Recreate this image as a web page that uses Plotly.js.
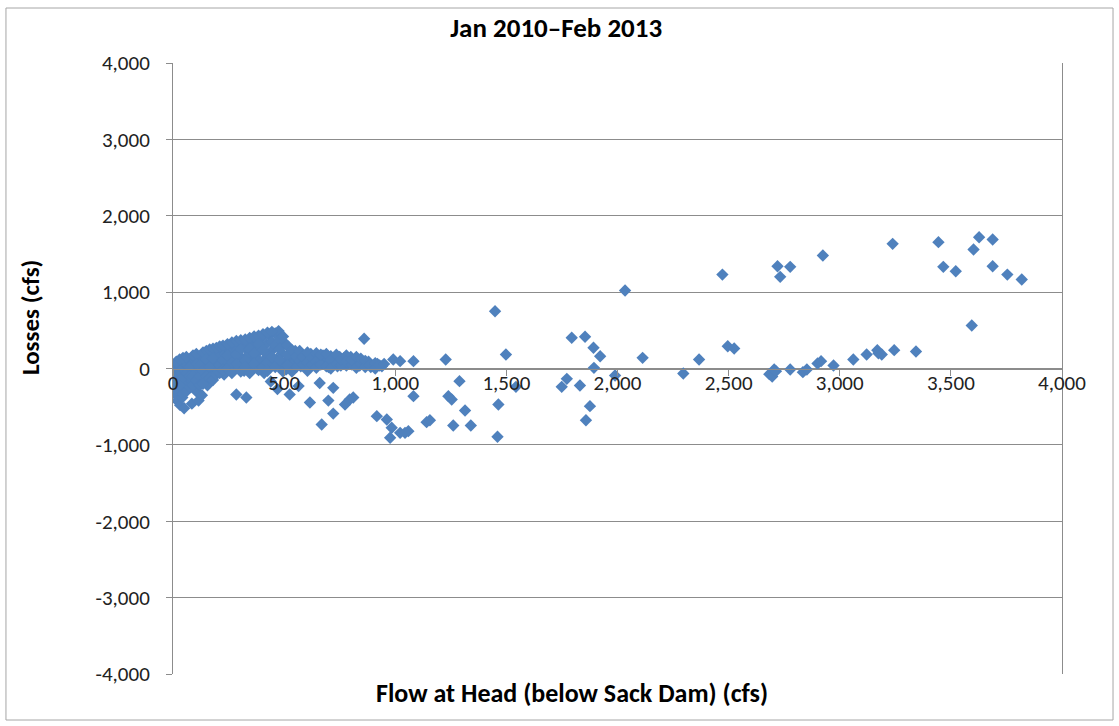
<!DOCTYPE html>
<html>
<head>
<meta charset="utf-8">
<script src="https://cdn.plot.ly/plotly-3.0.1.min.js"></script>
<style>html,body{margin:0;padding:0;background:#fff;}#chart{width:1119px;height:726px;}</style>
</head>
<body>
<div id="chart"></div>
<script>
// Flow at Head (below Sack Dam) (cfs)
const flowX = [
  5,8,10,12,15,18,20,22,25,28,30,32,35,38,40,42,45,48,50,55,58,60,
  65,70,75,80,85,90,95,100,105,110,115,120,125,130,135,140,145,150,
  155,160,170,175,180,190,195,200,210,215,220,230,235,240,250,255,260,270,275,280,285,290,300,305,310,320,
  325,330,335,340,350,355,360,370,375,380,390,400,405,410,420,425,430,440,445,450,460,465,470,475,480,490,500,505,510,520,525,
  530,540,550,560,565,575,580,590,600,610,616,620,630,640,650,660,665,669,675,685,690,699,700,710,715,721,721,
  730,740,750,760,770,774,780,790,795,800,811,820,830,840,850,860,870,880,890,900,917,920,940,962,977,984,991,1022,1059,1022,1082,1082,1044,
  1141,1156,1227,1239,1254,1261,1289,1314,1340,1449,1460,1464,1498,1543,
  1749,1772,1794,1831,1854,1858,1876,1892,1894,1922,1989,2034,2113,
  2296,2367,2472,2496,2525,2683,2696,2705,2713,2720,2732,2777,2777,2834,2852,2900,2916,2924,2972,
  3061,3121,3169,3174,3189,3238,3245,3343,3444,3466,3522,3594,3602,3627,3688,3688,3754,3819,
  // denser core of the low-flow cluster
  15,15,15,30,30,45,45,45,60,60,60,75,75,75,90,90,90,105,105,105,120,120,120,135,135,135,150,150,150,
  165,165,165,180,180,180,195,195,210,210,210,225,225,225,245,245,245,265,265,265,285,285,285,
  305,305,305,325,325,325,345,345,345,365,365,365,385,385,385,405,405,405,425,425,425,445,445,445,
  460,460,480,480,480,495,495,515,515,515,535,535,555,555,570,570,585,585,605,605,605,625,625,
  645,645,645,665,665,690,690,710,710,735,735,755,755,780,780,805,805,825,825,845,845,865,865,885,910,910,930,950
];
// Losses (cfs)
const lossY = [
  -50,20,-150,-250,-350,-420,60,-100,-200,-300,30,-480,-50,-150,80,-380,10,-250,-520,70,-100,-200,
  40,-30,100,-150,-460,20,120,-80,-300,50,-420,150,-40,-350,90,-120,170,0,
  -220,120,200,50,-60,230,100,-20,160,260,40,-80,190,290,80,-10,220,310,130,20,-340,240,340,150,60,-30,
  270,-380,360,180,80,-20,290,390,140,30,230,410,100,-60,320,180,440,-170,60,250,460,120,-270,490,30,200,340,90,-10,280,-340,
  150,60,230,120,-230,30,180,90,140,40,-445,190,100,150,60,-190,130,-733,170,80,140,-420,20,160,70,-253,-590,
  120,30,150,90,140,-471,40,110,-406,150,-380,70,120,40,100,389,60,90,20,40,-624,60,30,-668,-907,-776,118,-842,-820,96,96,-362,-842,
  -703,-677,118,-362,-406,-746,-166,-550,-746,750,-894,-471,183,-240,
  -240,-135,402,-223,415,-677,-493,271,9,161,-92,1021,140,
  -66,118,1230,292,262,-74,-105,-13,-35,1339,1200,1331,-13,-48,-13,65,96,1479,39,
  118,183,240,200,183,1632,240,222,1654,1331,1274,563,1558,1719,1689,1339,1230,1165,
  -280,-180,90,-220,120,-330,140,-120,150,-60,-300,-240,20,-100,170,-100,-220,190,60,-160,40,-100,-220,210,-30,-200,230,120,-100,
  250,20,-120,260,130,-150,270,-80,290,50,-60,300,110,-20,320,170,0,340,80,-60,360,180,60,
  370,250,-40,380,100,20,400,260,-60,420,200,60,430,320,-20,450,240,20,470,80,-30,480,350,150,
  300,20,380,260,110,420,-40,180,40,300,240,-40,160,20,230,100,50,150,210,80,-30,50,140,
  200,90,10,50,180,190,30,110,0,180,60,40,120,170,90,50,110,150,10,60,130,100,20,50,70,0,40,60
];

const xTickVals = [0,500,1000,1500,2000,2500,3000,3500,4000];
const xTickText = ['0','500','1,000','1,500','2,000','2,500','3,000','3,500','4,000'];
const yTickVals = [-4000,-3000,-2000,-1000,0,1000,2000,3000,4000];
const yTickText = ['-4,000','-3,000','-2,000','-1,000','0','1,000','2,000','3,000','4,000'];

const FONT = 'Calibri, Carlito, Lato, sans-serif';
const GRID = '#8c8c8c';

const trace = {
  type: 'scatter',
  mode: 'markers',
  x: flowX,
  y: lossY,
  marker: {symbol: 'diamond', size: 9.5, color: '#4F81BD', line: {width: 0}},
  hoverinfo: 'x+y'
};

const layout = {
  width: 1119,
  height: 726,
  margin: {l: 173, r: 57, t: 63, b: 52, pad: 0},
  paper_bgcolor: '#ffffff',
  plot_bgcolor: '#ffffff',
  showlegend: false,
  font: {family: FONT, size: 21, color: '#222'},
  title: {
    text: '<b>Jan 2010–Feb 2013</b>',
    font: {family: FONT, size: 27, color: '#000'},
    xref: 'container', x: 0.497, xanchor: 'center',
    yref: 'container', y: 0.962, yanchor: 'middle'
  },
  xaxis: {
    range: [0, 4000],
    anchor: 'free',
    position: 0.5,
    tickvals: xTickVals,
    ticktext: xTickText,
    ticks: 'outside',
    ticklen: 6,
    tickcolor: GRID,
    ticklabelstandoff: -11,
    showline: true,
    linecolor: GRID,
    linewidth: 1,
    showgrid: false,
    zeroline: false,
    tickfont: {family: FONT, size: 21, color: '#222'},
    fixedrange: true
  },
  yaxis: {
    range: [-4000, 4000],
    tickvals: yTickVals,
    ticktext: yTickText,
    ticks: 'outside',
    ticklen: 6,
    tickcolor: GRID,
    ticklabelstandoff: 12,
    showline: true,
    mirror: true,
    linecolor: GRID,
    linewidth: 1,
    showgrid: true,
    gridcolor: GRID,
    gridwidth: 1,
    zeroline: false,
    tickfont: {family: FONT, size: 21, color: '#222'},
    fixedrange: true
  },
  annotations: [
    {
      text: '<b>Flow at Head (below Sack Dam) (cfs)</b>',
      xref: 'paper', yref: 'paper',
      x: 0.226, y: -0.031, xanchor: 'left', yanchor: 'middle',
      showarrow: false,
      font: {family: FONT, size: 26, color: '#000'}
    },
    {
      text: '<b>Losses (cfs)</b>',
      xref: 'paper', yref: 'paper',
      x: -0.161, y: 0.584, xanchor: 'center', yanchor: 'middle',
      textangle: -90,
      showarrow: false,
      font: {family: FONT, size: 25, color: '#000'}
    }
  ],
  shapes: [
    {
      type: 'rect', xref: 'paper', yref: 'paper',
      x0: -0.1879, x1: 1.0574, y0: -0.0753, y1: 1.090,
      line: {color: '#a6a6a6', width: 1}, fillcolor: 'rgba(0,0,0,0)', layer: 'below'
    }
  ]
};

Plotly.newPlot('chart', [trace], layout, {displayModeBar: false, staticPlot: true});
</script>
</body>
</html>
